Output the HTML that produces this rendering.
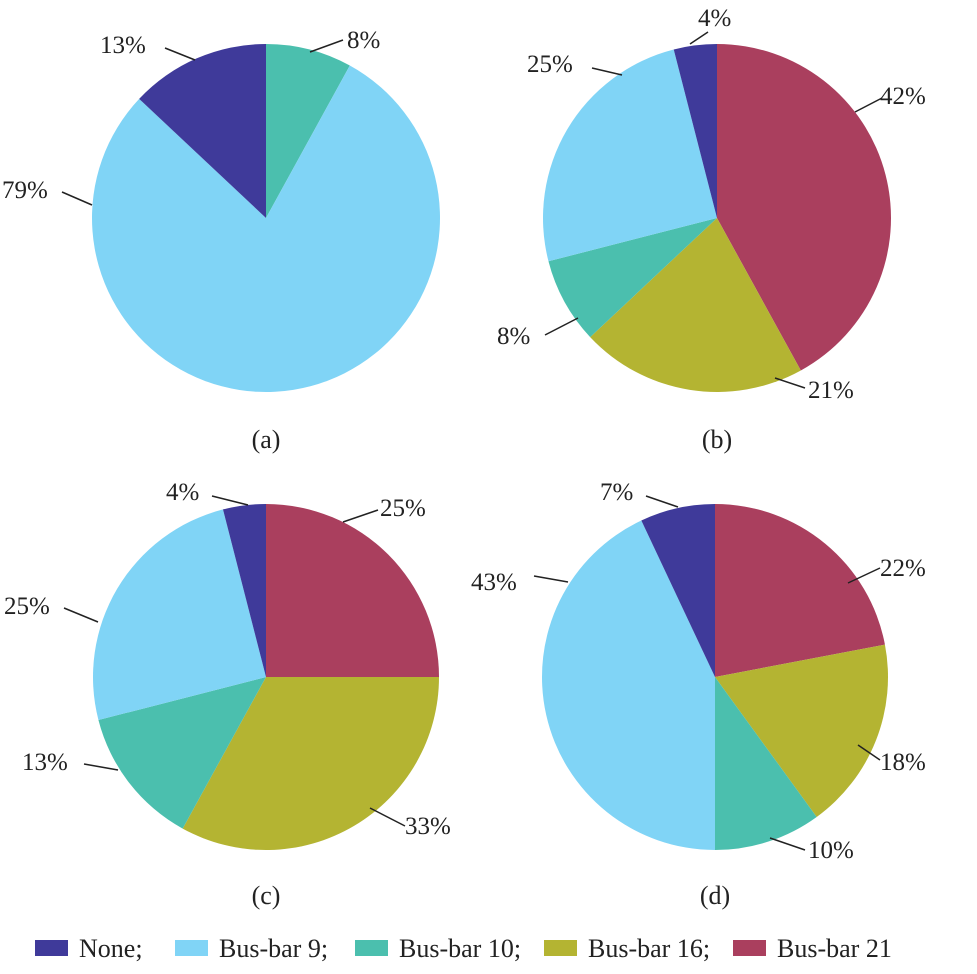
<!DOCTYPE html>
<html><head><meta charset="utf-8"><style>
html,body{margin:0;padding:0;background:#fff;}
svg text{font-family:"Liberation Serif",serif;fill:#222;}
</style></head><body>
<svg id="chart" width="977" height="969" viewBox="0 0 977 969" xmlns="http://www.w3.org/2000/svg"></svg>
<script>
// Series order clockwise from 12 o'clock: Bus-bar 21, Bus-bar 16, Bus-bar 10, Bus-bar 9, None
const seriesNames = ["Bus-bar 21","Bus-bar 16","Bus-bar 10","Bus-bar 9","None"];
const seriesColors = ["#aa3f5e","#b4b432","#4bbfae","#80d4f6","#3f3a9a"];
const panelA = [0, 0, 8, 79, 13];
const panelB = [42, 21, 8, 25, 4];
const panelC = [25, 33, 13, 25, 4];
const panelD = [22, 18, 10, 43, 7];
const panelCaptions = ["(a)","(b)","(c)","(d)"];
const legendNames = ["None;","Bus-bar 9;","Bus-bar 10;","Bus-bar 16;","Bus-bar 21"];

// layout (not data)
const panels = [
 {vals:panelA, cx:266, cy:218, r:174, cap:448, labels:[null,null,[347,48,310,52,343,40],[2,198,62,192,92,205],[100,53,165,48,195,60]]},
 {vals:panelB, cx:717, cy:218, r:174, cap:448, labels:[[880,104,855,112,882,98],[808,398,775,378,805,388],[497,344,545,335,578,318],[527,72,592,68,622,75],[698,26,690,44,708,32]]},
 {vals:panelC, cx:266, cy:677, r:173, cap:904, labels:[[380,516,343,522,378,510],[405,834,370,808,405,826],[22,770,84,764,118,770],[4,614,64,608,98,622],[166,500,212,496,248,505]]},
 {vals:panelD, cx:715, cy:677, r:173, cap:904, labels:[[880,576,848,583,880,568],[880,770,858,745,880,760],[808,858,770,838,805,850],[471,590,534,576,568,582],[600,500,646,496,678,507]]}
];
const NS="http://www.w3.org/2000/svg";
const svg=document.getElementById('chart');
function mk(t,a){const e=document.createElementNS(NS,t);for(const k in a)e.setAttribute(k,a[k]);return e;}
function pt(cx,cy,r,frac){const a=frac*2*Math.PI;return [cx+r*Math.sin(a),cy-r*Math.cos(a)];}
panels.forEach((p,pi)=>{
  const g=mk('g',{});
  
  
  svg.appendChild(g);
  const total=p.vals.reduce((s,v)=>s+v,0);
  let acc=0;
  p.vals.forEach((v,i)=>{
    if(v<=0)return;
    const f0=acc/total, f1=(acc+v)/total; acc+=v;
    const [x0,y0]=pt(p.cx,p.cy,p.r,f0),[x1,y1]=pt(p.cx,p.cy,p.r,f1);
    const large=(f1-f0)>0.5?1:0;
    const d=`M${p.cx},${p.cy} L${x0},${y0} A${p.r},${p.r} 0 ${large} 1 ${x1},${y1} Z`;
    const path=mk('path',{d:d,fill:seriesColors[i]});
    
    
    g.appendChild(path);
    const L=p.labels[i];
    if(L){
      const ln=mk('line',{x1:L[2],y1:L[3],x2:L[4],y2:L[5],stroke:'#222','stroke-width':1.5});
      
      
      g.appendChild(ln);
      const t=mk('text',{x:L[0],y:L[1],'font-size':25});
      
      
      t.textContent=v+'%';
      g.appendChild(t);
    }
  });
  const c=mk('text',{x:p.cx,y:p.cap,'font-size':26,'text-anchor':'middle'});
  
  
  c.textContent=panelCaptions[pi];
  g.appendChild(c);
});
// legend
const legColors=["#3f3a9a","#80d4f6","#4bbfae","#b4b432","#aa3f5e"];
const legX=[35,175,355,544,733];
const lg=mk('g',{});


svg.appendChild(lg);
legendNames.forEach((n,i)=>{
  const r=mk('rect',{x:legX[i],y:940,width:33,height:16,fill:legColors[i]});
  
  
  lg.appendChild(r);
  const t=mk('text',{x:legX[i]+44,y:957,'font-size':26});
  
  
  t.textContent=n;
  lg.appendChild(t);
});
</script>
</body></html>
